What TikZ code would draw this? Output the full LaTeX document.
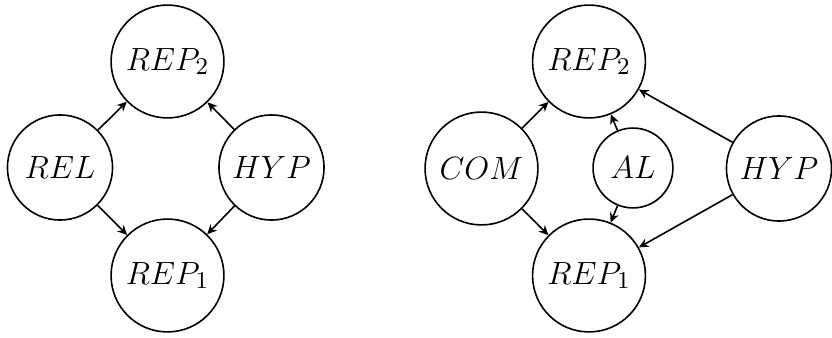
\documentclass[tikz,border=0pt]{standalone}
\usetikzlibrary{arrows.meta}
\begin{document}
\begin{tikzpicture}[x=0.373pt, y=-0.373pt,
  font=\fontsize{12.3pt}{15pt}\selectfont,
  state/.style={draw, circle, line width=0.6pt, inner sep=0pt},
  big/.style={state, minimum size=42.1pt},
  mid/.style={state, minimum size=39.2pt},
  small/.style={state, minimum size=29.8pt},
  edge/.style={-{Stealth[length=3.6pt, width=3.4pt, inset=1.2pt]}, line width=0.6pt}]
\useasboundingbox (0,0) rectangle (832,338);
% left graph
\node[big] (lr2) at (167.5,61.5) {$REP_2$};
\node[big] (lr1) at (167.5,275.5) {$REP_1$};
\node[mid] (rel) at (60,167.5) {$REL$};
\node[mid] (lhyp) at (271.5,167.5) {$HYP$};
\draw[edge] (rel) -- (lr2);
\draw[edge] (rel) -- (lr1);
\draw[edge] (lhyp) -- (lr2);
\draw[edge] (lhyp) -- (lr1);
% right graph
\node[big] (rr2) at (589,61.5) {$REP_2$};
\node[big] (rr1) at (589,275.5) {$REP_1$};
\node[big] (com) at (481.5,168.5) {$COM$};
\node[small] (al) at (633,168) {$AL$};
\node[mid] (rhyp) at (779,168.5) {$HYP$};
\draw[edge] (com) -- (rr2);
\draw[edge] (com) -- (rr1);
\draw[edge] (al) -- (rr2);
\draw[edge] (al) -- (rr1);
\draw[edge] (rhyp) -- (rr2);
\draw[edge] (rhyp) -- (rr1);
\end{tikzpicture}
\end{document}
